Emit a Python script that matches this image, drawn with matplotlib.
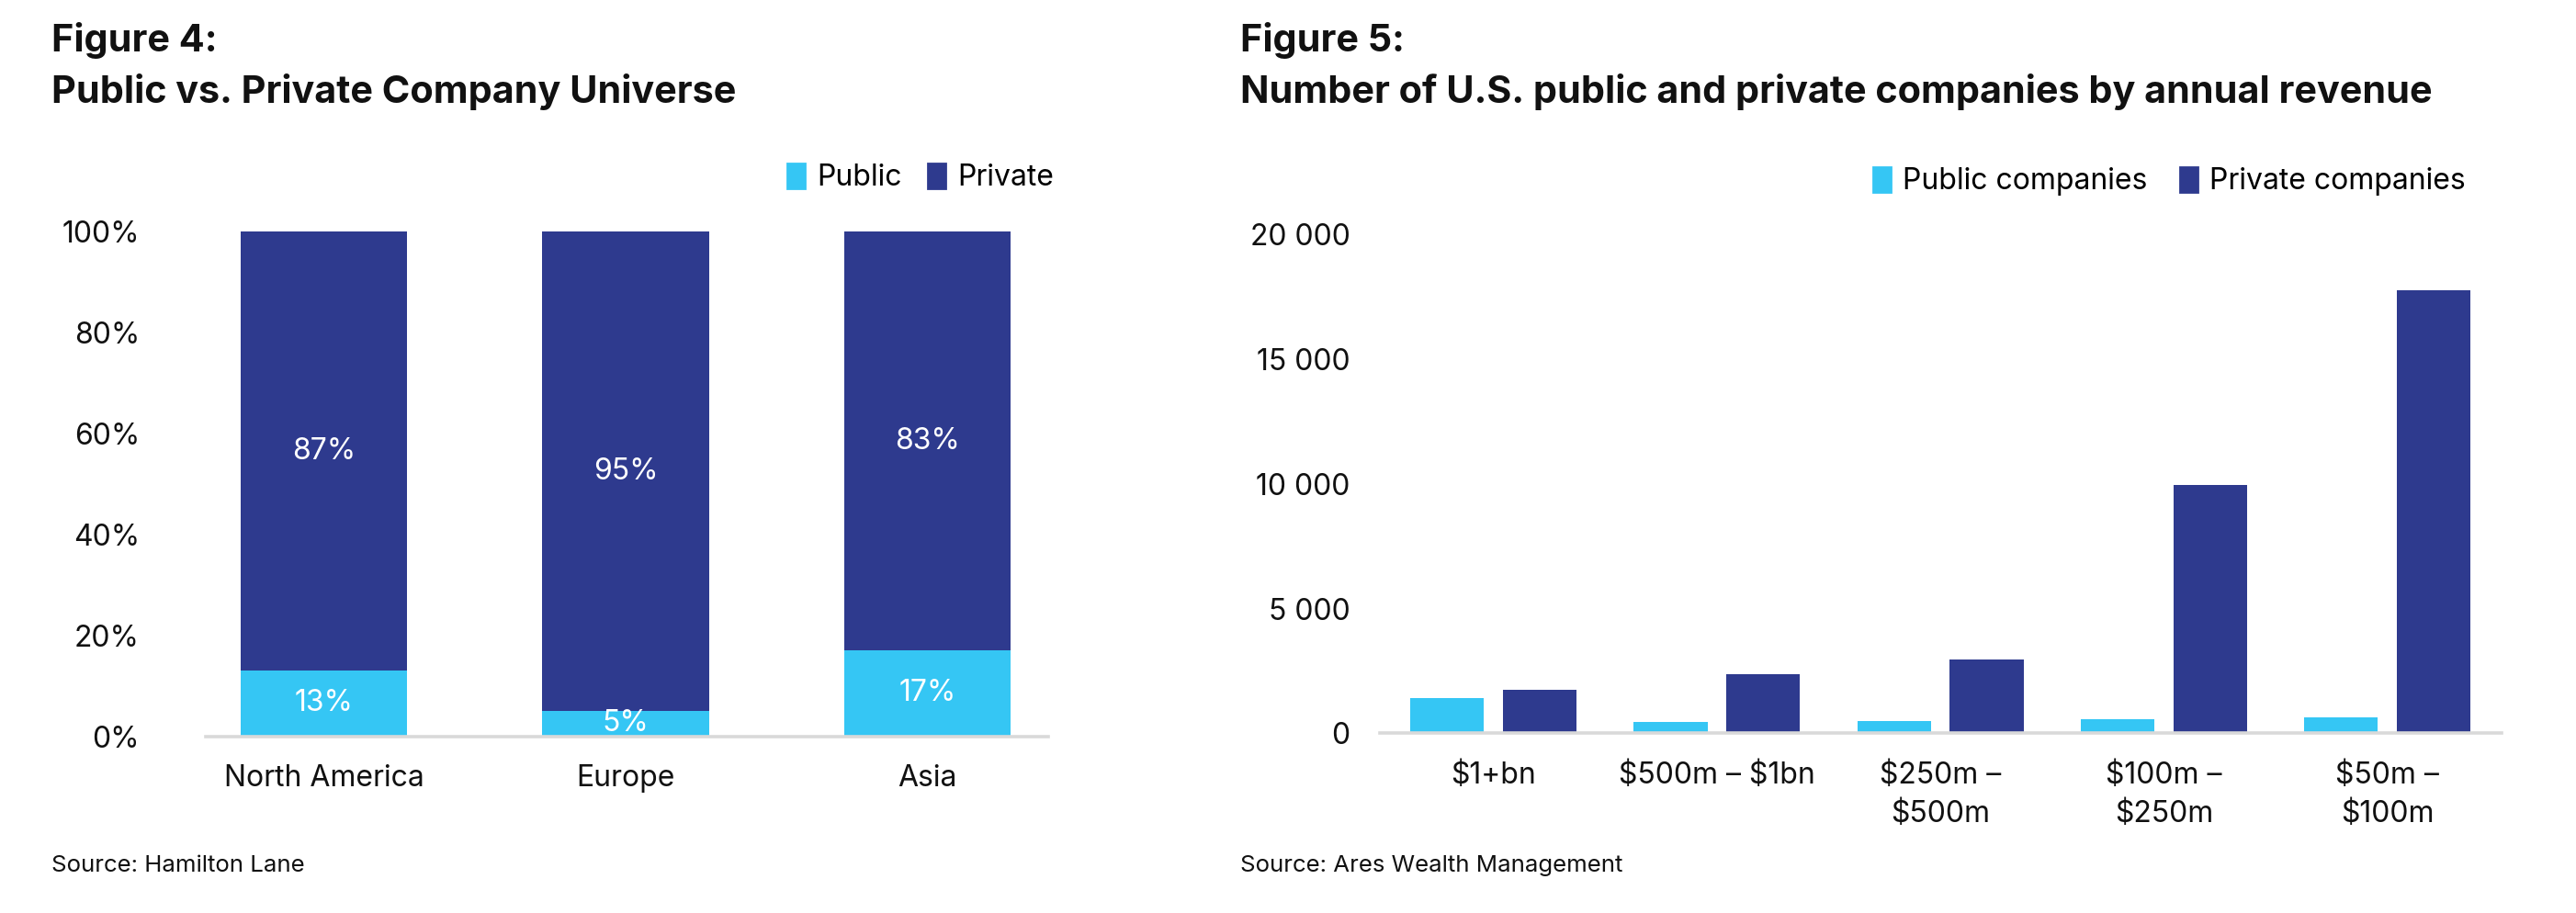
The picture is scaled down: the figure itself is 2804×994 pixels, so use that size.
import numpy as np
import matplotlib
matplotlib.use("Agg")
import matplotlib.pyplot as plt
from matplotlib.patches import Patch

plt.rcParams['font.family'] = ['Inter', 'DejaVu Sans']

# Figure 4 data
regions = ['North America', 'Europe', 'Asia']
public_share = [13, 5, 17]
private_share = [87, 95, 83]

# Figure 5 data
revenue_bands = ['\\$1+bn', '\\$500m – \\$1bn', '\\$250m –\n\\$500m', '\\$100m –\n\\$250m', '\\$50m –\n\\$100m']
public_counts = [1400, 450, 480, 550, 630]
private_counts = [1750, 2350, 2950, 9950, 17780]

LIGHT = '#35C6F4'
DARK = '#2E3A8E'
GREY = '#D9D9D9'
TXT = '#111111'

fig = plt.figure(figsize=(14.02, 4.97), dpi=200)

# Titles and sources
fig.text(0.020, 0.944, 'Figure 4:', fontsize=14.9, fontweight='bold', va='baseline', color=TXT)
fig.text(0.020, 0.887, 'Public vs. Private Company Universe', fontsize=14.9, fontweight='bold', va='baseline', color=TXT)
fig.text(0.4815, 0.944, 'Figure 5:', fontsize=14.9, fontweight='bold', va='baseline', color=TXT)
fig.text(0.4815, 0.887, 'Number of U.S. public and private companies by annual revenue', fontsize=14.9, fontweight='bold', va='baseline', color=TXT)
fig.text(0.020, 0.052, 'Source: Hamilton Lane', fontsize=9.3, va='center', color=TXT)
fig.text(0.4815, 0.052, 'Source: Ares Wealth Management', fontsize=9.3, va='center', color=TXT)

# Left chart: stacked percentages
ax1 = fig.add_axes([0.080, 0.1935, 0.327, 0.553])
x1 = np.arange(len(regions))
pub = np.array(public_share) / 100
priv = np.array(private_share) / 100
ax1.bar(x1, pub, width=0.552, color=LIGHT, label='Public')
ax1.bar(x1, priv, width=0.552, bottom=pub, color=DARK, label='Private')
for i in range(len(regions)):
    ax1.text(x1[i], pub[i] / 2, f'{public_share[i]}%', ha='center', va='center', color='white', fontsize=11.5)
    ax1.text(x1[i], pub[i] + priv[i] / 2, f'{private_share[i]}%', ha='center', va='center', color='white', fontsize=11.5)
ax1.set_xlim(-0.39, 2.40)
ax1.set_ylim(0, 1)
ax1.set_yticks(np.arange(0, 1.01, 0.2))
ax1.set_yticklabels([f'{int(round(v*100))}%' for v in np.arange(0, 1.01, 0.2)])
ax1.set_xticks(x1)
ax1.set_xticklabels(regions)
ax1.tick_params(axis='y', length=0, pad=26, labelsize=11.5, labelcolor=TXT)
ax1.tick_params(axis='x', length=0, pad=11, labelsize=11.5, labelcolor=TXT)
for s in ['top', 'right', 'left']:
    ax1.spines[s].set_visible(False)
ax1.spines['bottom'].set_color(GREY)
ax1.spines['bottom'].set_linewidth(1.3)
ax1.legend(handles=[Patch(color=LIGHT, label='Public'), Patch(color=DARK, label='Private')],
           loc='center right', bbox_to_anchor=(0.409, 0.805), bbox_transform=fig.transFigure,
           ncol=2, frameon=False, fontsize=11.5, handlelength=0.6, handleheight=0.9,
           handletextpad=0.4, columnspacing=0.9, borderaxespad=0, borderpad=0)

# Right chart: grouped counts
ax2 = fig.add_axes([0.5355, 0.197, 0.4355, 0.546])
x2 = np.arange(len(revenue_bands))
ax2.bar(x2 - 0.207, public_counts, width=0.33, color=LIGHT, label='Public companies')
ax2.bar(x2 + 0.207, private_counts, width=0.33, color=DARK, label='Private companies')
ax2.set_xlim(-0.51, 4.51)
ax2.set_ylim(0, 20000)
ax2.set_yticks(np.arange(0, 20001, 5000))
ax2.set_yticklabels([f'{int(v):,}'.replace(',', ' ') for v in np.arange(0, 20001, 5000)])
ax2.set_xticks(x2)
ax2.set_xticklabels(revenue_bands, linespacing=1.45, va='top')
ax2.tick_params(axis='y', length=0, pad=11.5, labelsize=11.5, labelcolor=TXT)
ax2.tick_params(axis='x', length=0, pad=11, labelsize=11.5, labelcolor=TXT)
for s in ['top', 'right', 'left']:
    ax2.spines[s].set_visible(False)
ax2.spines['bottom'].set_color(GREY)
ax2.spines['bottom'].set_linewidth(1.3)
ax2.legend(handles=[Patch(color=LIGHT, label='Public companies'), Patch(color=DARK, label='Private companies')],
           loc='center right', bbox_to_anchor=(0.957, 0.801), bbox_transform=fig.transFigure,
           ncol=2, frameon=False, fontsize=11.5, handlelength=0.6, handleheight=0.9,
           handletextpad=0.4, columnspacing=1.1, borderaxespad=0, borderpad=0)

fig.savefig('out.png', dpi=200, facecolor='white')
